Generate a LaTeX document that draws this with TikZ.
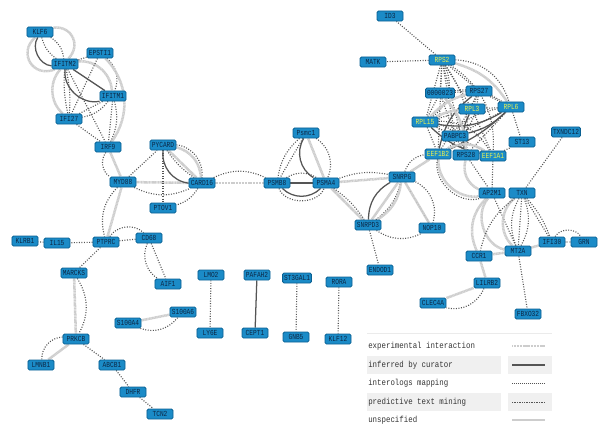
\documentclass[tikz,border=0pt]{standalone}
\usepackage{fontspec}
\setmainfont{Liberation Mono}
\newfontfamily\genefont[FakeStretch=0.8]{Liberation Mono}
\newfontfamily\legendfont[FakeStretch=0.85]{Liberation Mono}
\usetikzlibrary{backgrounds}
\definecolor{genefill}{RGB}{27,139,199}
\definecolor{genedraw}{RGB}{10,96,146}
\definecolor{genetext}{RGB}{12,40,70}
\definecolor{hubtext}{RGB}{232,240,80}
\definecolor{darkline}{RGB}{85,85,85}
\definecolor{lightline}{RGB}{205,205,205}
\definecolor{legendcell}{RGB}{240,240,240}
\tikzset{
  gene node/.style={rectangle,rounded corners=1pt,draw=genedraw,line width=0.6pt,fill=genefill,
    text=genetext,font=\genefont\fontsize{5.5}{5.5}\selectfont,minimum width=0.65cm,
    minimum height=0.25cm,inner xsep=1pt,inner ysep=0.5pt},
  hub node/.style={gene node,text=hubtext},
  expe/.style={draw=lightline,line width=1.8pt,dash pattern=on 0.8pt off 0.3pt},
  cura/.style={draw=darkline,line width=0.9pt},
  intero/.style={draw=darkline,line width=0.8pt,dash pattern=on 0.7pt off 1.1pt},
  unsp/.style={draw=lightline,line width=1.8pt},
  legend text/.style={anchor=west,inner sep=0pt,font=\legendfont\fontsize{6.2}{6.2}\selectfont,text=black!80}
}
\begin{document}
\begin{tikzpicture}[x=0.025cm,y=-0.025cm]
\useasboundingbox (0,0) rectangle (598,427);
% genes, top left
\node[gene node] at (40,32) (klf6) {KLF6};
\node[gene node] at (100,53) (epsti1) {EPSTI1};
\node[gene node] at (65,64) (ifitm2) {IFITM2};
\node[gene node] at (113,96) (ifitm1) {IFITM1};
\node[gene node] at (69,119) (ifi27) {IFI27};
\node[gene node] at (108,147) (irf9) {IRF9};
\node[gene node] at (163,145) (pycard) {PYCARD};
\node[gene node] at (123,182) (myd88) {MYD88};
\node[gene node] at (202,183) (card16) {CARD16};
\node[gene node] at (163,208) (ptov1) {PTOV1};
% genes, bottom left
\node[gene node] at (106,242) (ptprc) {PTPRC};
\node[gene node] at (57,243) (il15) {IL15};
\node[gene node] at (25,241) (klrb1) {KLRB1};
\node[gene node] at (149,238) (cd68) {CD68};
\node[gene node] at (74,273) (marcks) {MARCKS};
\node[gene node] at (168,284) (aif1) {AIF1};
\node[gene node] at (183,312) (s100a6) {S100A6};
\node[gene node] at (128,323) (s100a4) {S100A4};
\node[gene node] at (76,339) (prkcb) {PRKCB};
\node[gene node] at (41,365) (lmnb1) {LMNB1};
\node[gene node] at (112,365) (abcb1) {ABCB1};
\node[gene node] at (133,392) (dhfr) {DHFR};
\node[gene node] at (160,414) (tcn2) {TCN2};
% pairs in the middle
\node[gene node] at (211,275) (lmo2) {LMO2};
\node[gene node] at (210,333) (ly6e) {LY6E};
\node[gene node] at (257,275) (pafah2) {PAFAH2};
\node[gene node] at (255,333) (cept1) {CEPT1};
\node[gene node] at (297,278) (st3gal1) {ST3GAL1};
\node[gene node] at (296,337) (gnb5) {GNB5};
\node[gene node] at (339,282) (rora) {RORA};
\node[gene node] at (338,339) (klf12) {KLF12};
% proteasome, snrp
\node[gene node] at (306,133) (psmc1) {Psmc1};
\node[gene node] at (277,183) (psmb8) {PSMB8};
\node[gene node] at (326,183) (psma4) {PSMA4};
\node[gene node] at (368,225) (snrpd3) {SNRPD3};
\node[gene node] at (380,270) (endod1) {ENDOD1};
\node[gene node] at (402,177) (snrpg) {SNRPG};
\node[gene node] at (432,228) (nop10) {NOP10};
% ribosome cluster
\node[gene node] at (390,16) (id3) {ID3};
\node[gene node] at (373,62) (matk) {MATK};
\node[hub node] at (442,60) (rps2) {RPS2};
\node[gene node] at (440,93) (ens23) {0000023};
\node[gene node] at (479,91) (rps27) {RPS27};
\node[hub node] at (472,109) (rpl3) {RPL3};
\node[hub node] at (511,107) (rpl6) {RPL6};
\node[hub node] at (425,122) (rpl15) {RPL15};
\node[gene node] at (455,136) (pabpc3) {PABPC3};
\node[gene node] at (522,142) (st13) {ST13};
\node[hub node] at (438,154) (eef1b2) {EEF1B2};
\node[gene node] at (466,155) (rps28) {RPS28};
\node[hub node] at (493,156) (eef1a1) {EEF1A1};
% right side
\node[gene node] at (566,132) (txndc12) {TXNDC12};
\node[gene node] at (492,193) (ap2m1) {AP2M1};
\node[gene node] at (522,193) (txn) {TXN};
\node[gene node] at (518,251) (mt2a) {MT2A};
\node[gene node] at (479,256) (ccr1) {CCR1};
\node[gene node] at (552,242) (ifi30) {IFI30};
\node[gene node] at (584,242) (grn) {GRN};
\node[gene node] at (487,283) (lilrb2) {LILRB2};
\node[gene node] at (433,303) (clec4a) {CLEC4A};
\node[gene node] at (528,314) (fbxo32) {FBXO32};

\begin{pgfonlayer}{background}
% top left
\path (klf6) edge[expe, bend right=80, looseness=1.6] (ifitm2);
\path (klf6) edge[expe, bend left=70, looseness=1.4] (ifitm2);
\path (klf6) edge[cura, bend right=60] (ifitm2);
\path (klf6) edge[intero, bend right=20] (ifitm2);
\path (klf6) edge[intero, bend left=25] (ifitm2);
\path (ifitm2) edge[cura] (ifitm1);
\path (ifitm2) edge[cura, bend right=55] (ifitm1);
\path (ifitm2) edge[expe, bend left=45] (ifitm1);
\path (ifitm2) edge[intero] (epsti1);
\path (epsti1) edge[intero, bend left=35] (ifitm1);
\path (epsti1) edge[expe, bend left=40] (irf9);
\path (epsti1) edge[intero] (ifi27);
\path (ifitm2) edge[intero, bend right=8] (ifi27);
\path (ifitm2) edge[intero, bend left=8] (ifi27);
\path (ifitm2) edge[expe, bend right=45] (ifi27);
\path (ifitm1) edge[intero] (ifi27);
\path (ifitm1) edge[intero, bend left=20] (ifi27);
\path (ifitm2) edge[intero] (irf9);
\path (ifitm1) edge[intero] (irf9);
\path (ifi27) edge[intero] (irf9);
\path (ifitm1) edge[intero, bend left=20] (irf9);
% myd88, pycard, card16
\path (irf9) edge[intero, bend right=45] (myd88);
\path (irf9) edge[expe] (myd88);
\path (myd88) edge[expe] (ptprc);
\path (myd88) edge[intero, bend right=30] (ptprc);
\path (myd88) edge[intero] (pycard);
\path (myd88) edge[expe] (card16);
\path (myd88) edge[intero, bend right=25] (card16);
\path (pycard) edge[cura, bend right=45] (card16);
\path (pycard) edge[expe] (card16);
\path (pycard) edge[expe, bend left=35] (card16);
\path (pycard) edge[intero, bend left=45] (card16);
\path (pycard) edge[intero, bend right=10] (card16);
\path (pycard) edge[intero] (ptov1);
\path (card16) edge[intero, bend left=20] (ptov1);
\path (card16) edge[expe] (psmb8);
\path (card16) edge[intero, bend left=25] (psmb8);
% proteasome
\path (psmb8) edge[cura] (psma4);
\path (psmb8) edge[cura, bend right=45] (psma4);
\path (psmb8) edge[intero, bend right=70] (psma4);
\path (psmb8) edge[intero, bend left=30] (psma4);
\path (psmc1) edge[intero] (psmb8);
\path (psmc1) edge[intero, bend right=20] (psmb8);
\path (psmc1) edge[cura, bend right=45] (psma4);
\path (psmc1) edge[expe] (psma4);
\path (psmc1) edge[intero, bend left=40] (psma4);
\path (psma4) edge[expe] (snrpg);
\path (psma4) edge[expe] (snrpd3);
\path (psma4) edge[intero, bend left=10] (snrpd3);
\path (psma4) edge[intero, bend left=15] (snrpg);
\path (snrpd3) edge[cura, bend left=30] (snrpg);
\path (snrpd3) edge[expe] (snrpg);
\path (snrpd3) edge[intero, bend right=20] (snrpg);
\path (snrpd3) edge[expe, bend right=25] (snrpg);
\path (snrpg) edge[intero] (nop10);
\path (snrpg) edge[expe] (nop10);
\path (snrpg) edge[intero, bend left=40] (nop10);
\path (snrpd3) edge[intero, bend right=30] (nop10);
\path (snrpd3) edge[intero] (endod1);
\path (snrpg) edge[expe] (eef1b2);
\path (snrpg) edge[intero, bend left=30] (eef1b2);
% ribosome cluster
\path (rps2) edge[intero] (matk);
\path (rps2) edge[intero] (id3);
\foreach \a/\b in {rps2/ens23,rps2/rps27,rps2/rpl3,rps2/rpl15,rps2/pabpc3,rps2/rps28,rps2/eef1b2,
    rpl6/rps27,rpl6/rpl3,rpl6/pabpc3,rpl6/rps28,rpl6/st13,rpl15/ens23,rpl15/rpl3,rpl15/pabpc3,
    rpl15/eef1b2,rps27/rpl3,rps27/pabpc3,rpl3/eef1a1,pabpc3/eef1a1,pabpc3/rps28,eef1a1/st13,
    ens23/rps27,ens23/pabpc3,rps28/ap2m1,eef1a1/ap2m1}
  \path (\a) edge[intero] (\b);
\foreach \a/\b/\s in {rps2/rpl6/35,rps2/eef1a1/30,rps2/rpl15/40,rpl15/rps28/30,ens23/rpl6/20,
    eef1b2/rpl6/25,rpl15/eef1a1/30,rps2/rps28/20,rps27/eef1b2/25}
  \path (\a) edge[intero, bend left=\s] (\b);
\foreach \a/\b/\s in {rpl15/rpl6/20,eef1b2/rpl6/10,pabpc3/rpl6/15,rpl3/rps28/20,rps27/eef1b2/20,
    rpl15/eef1a1/15}
  \path (\a) edge[cura, bend right=\s] (\b);
\foreach \a/\b/\s in {rps2/rpl6/20,rpl15/rps27/15,eef1b2/eef1a1/30,rpl15/rpl3/10,ens23/rps28/20}
  \path (\a) edge[expe, bend left=\s] (\b);
\path (eef1b2) edge[expe, bend right=50] (ap2m1);
\path (rps28) edge[expe, bend right=40] (ap2m1);
\path (eef1b2) edge[intero, bend right=60] (ap2m1);
% right side
\path (txndc12) edge[intero] (txn);
\path (ap2m1) edge[expe, bend right=60] (mt2a);
\path (ap2m1) edge[expe, bend right=35] (ccr1);
\path (ap2m1) edge[intero] (mt2a);
\path (txn) edge[intero] (mt2a);
\path (txn) edge[intero, bend right=25] (mt2a);
\path (txn) edge[intero, bend left=25] (mt2a);
\path (txn) edge[expe, bend right=50] (mt2a);
\path (txn) edge[intero, bend right=20] (ccr1);
\path (txn) edge[intero] (ifi30);
\path (txn) edge[intero, bend left=10] (ifi30);
\path (mt2a) edge[expe] (ifi30);
\path (ifi30) edge[expe] (grn);
\path (ifi30) edge[intero, bend left=60] (grn);
\path (mt2a) edge[intero] (fbxo32);
\path (mt2a) edge[expe] (ccr1);
\path (ccr1) edge[expe] (lilrb2);
\path (lilrb2) edge[expe] (clec4a);
\path (lilrb2) edge[intero, bend left=40] (clec4a);
% bottom left
\path (ptprc) edge[intero] (il15);
\path (il15) edge[intero] (klrb1);
\path (ptprc) edge[intero] (cd68);
\path (ptprc) edge[intero, bend left=50] (cd68);
\path (ptprc) edge[intero] (marcks);
\path (cd68) edge[intero] (aif1);
\path (cd68) edge[intero, bend right=40] (aif1);
\path (marcks) edge[expe] (prkcb);
\path (marcks) edge[intero, bend left=30] (prkcb);
\path (prkcb) edge[expe] (lmnb1);
\path (prkcb) edge[intero, bend right=45] (lmnb1);
\path (prkcb) edge[intero] (abcb1);
\path (abcb1) edge[intero] (dhfr);
\path (dhfr) edge[intero] (tcn2);
\path (s100a4) edge[expe] (s100a6);
\path (s100a4) edge[intero, bend right=35] (s100a6);
\path (lmo2) edge[intero] (ly6e);
\path (pafah2) edge[cura] (cept1);
\path (st3gal1) edge[intero] (gnb5);
\path (rora) edge[intero] (klf12);
\end{pgfonlayer}

% legend
\draw[black!8, line width=0.4pt] (367,333) -- (552,333);
\fill[legendcell] (367,356) rectangle (501,374);
\fill[legendcell] (508,356) rectangle (552,374);
\fill[legendcell] (367,393) rectangle (501,411);
\fill[legendcell] (508,393) rectangle (552,411);
\node[legend text] at (368,346) (lgexp) {experimental interaction};
\node[legend text] at (368,365) (lgcur) {inferred by curator};
\node[legend text] at (368,383) (lgint) {interologs mapping};
\node[legend text] at (368,402) (lgtxt) {predictive text mining};
\node[legend text] at (368,420) (lgunk) {unspecified};
\coordinate (sa) at (512,346); \coordinate (sb) at (545,346);
\draw[expe, line width=1.2pt] (sa) -- (sb);
\draw[cura, line width=1.2pt] (512,365) -- (545,365);
\draw[intero, line width=0.5pt, dash pattern=on 0.5pt off 0.9pt] (512,383) -- (545,383);
\draw[intero, line width=0.5pt, dash pattern=on 0.5pt off 0.7pt] (512,402) -- (545,402);
\draw[unsp, line width=1.2pt] (512,420) -- (545,420);
\end{tikzpicture}
\end{document}
